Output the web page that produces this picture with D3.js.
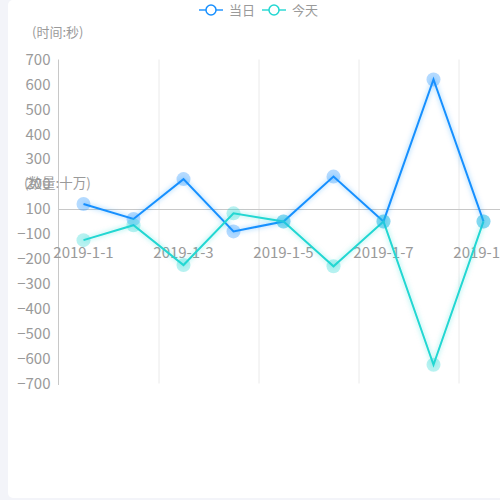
<!DOCTYPE html>
<html>
<head>
<meta charset="utf-8">
<script src="https://cdn.jsdelivr.net/npm/d3@7"></script>
<style>
  html, body { margin: 0; padding: 0; background: #f3f4f9; }
  #chart { position: absolute; left: 8px; top: 0; width: 520px; height: 498px; background: #fff; border-radius: 5px; overflow: hidden; }
  svg { position: absolute; left: -8px; top: 0; }
  text { font-family: "Noto Sans CJK SC", "Noto Sans", sans-serif; }
</style>
</head>
<body>
<div id="chart"></div>
<script>
// data
const dates = ["2019-1-1", "2019-1-2", "2019-1-3", "2019-1-4", "2019-1-5", "2019-1-6", "2019-1-7", "2019-1-8", "2019-1-9"];
const dangri = [120, 20, 220, -80, 0, 230, 0, 620, 0];
const jintian = [-125, -30, -225, 65, 0, -230, 0, -625, 0];
const yTicks = [700, 600, 500, 400, 300, 200, 100, -100, -200, -300, -400, -500, -600, -700];
const seriesNames = ["当日", "今天"];

const width = 500, height = 498;
const colors = ["#1890ff", "#22d7d2"];

const svg = d3.select("#chart").append("svg")
  .attr("width", width + 8)
  .attr("height", height);

// glow filters
const defs = svg.append("defs");
colors.forEach((c, i) => {
  defs.append("filter")
    .attr("id", "glow" + i)
    .attr("x", "-20%").attr("y", "-20%").attr("width", "140%").attr("height", "140%")
    .append("feDropShadow")
    .attr("dx", 0).attr("dy", 0)
    .attr("stdDeviation", 2.5)
    .attr("flood-color", c)
    .attr("flood-opacity", 0.5);
});

// scales
const xScale = d3.scaleBand().domain(dates).range([58.5, 58.5 + dates.length * 50]);
// piecewise: axis skips zero, ticks 100 / -100 sit one step apart
const yScale = d3.scaleLinear()
  .domain([-700, -100, 100, 700])
  .range([383.5, 233.9, 209, 59.5]);

const cx = (d) => xScale(d) + xScale.bandwidth() / 2;

// vertical split lines
svg.append("g")
  .selectAll("line")
  .data(dates.filter((d, i) => i > 0 && i % 2 === 0))
  .join("line")
  .attr("x1", (d) => xScale(d) + 0.5)
  .attr("x2", (d) => xScale(d) + 0.5)
  .attr("y1", yScale(700))
  .attr("y2", yScale(-700))
  .attr("stroke", "#eaeaea")
  .attr("stroke-width", 1);

// y axis
const yAxis = d3.axisLeft(yScale)
  .tickValues(yTicks)
  .tickSize(0)
  .tickSizeOuter(0)
  .tickPadding(8);

const gy = svg.append("g")
  .attr("class", "y-axis")
  .attr("transform", "translate(58.5, 0)")
  .call(yAxis);
gy.select(".domain").attr("stroke", "#c8c8c8").attr("d", `M0,${yScale(700)}V${yScale(-700) + 1.5}`);
gy.selectAll("text").attr("fill", "#9a9a9a").attr("font-size", 15);

// horizontal base line
svg.append("line")
  .attr("x1", 58.5)
  .attr("x2", width + 8)
  .attr("y1", Math.round(yScale(100)) + 0.5)
  .attr("y2", Math.round(yScale(100)) + 0.5)
  .attr("stroke", "#c8c8c8");

// x axis labels
const xAxis = d3.axisBottom(xScale)
  .tickValues(dates.filter((d, i) => i % 2 === 0))
  .tickSize(0)
  .tickPadding(8);

const gx = svg.append("g")
  .attr("class", "x-axis")
  .attr("transform", "translate(0, 239)")
  .call(xAxis);
gx.select(".domain").remove();
gx.selectAll("text").attr("fill", "#9a9a9a").attr("font-size", 15);

// axis names
svg.append("text")
  .attr("x", 32).attr("y", 37)
  .attr("fill", "#9a9a9a").attr("font-size", 13)
  .text("(时间:秒)");

svg.append("text")
  .attr("x", 24).attr("y", 188)
  .attr("fill", "#9a9a9a").attr("font-size", 13.5)
  .text("(数量:十万)");

// lines
const line = d3.line()
  .x((d, i) => cx(dates[i]))
  .y((d) => yScale(d));

[dangri, jintian].forEach((vals, k) => {
  svg.append("path")
    .datum(vals)
    .attr("d", line)
    .attr("fill", "none")
    .attr("stroke", colors[k])
    .attr("stroke-width", 2)
    .attr("filter", `url(#glow${k})`);
});

[dangri, jintian].forEach((vals, k) => {
  svg.append("g")
    .selectAll("circle")
    .data(vals)
    .join("circle")
    .attr("cx", (d, i) => cx(dates[i]))
    .attr("cy", (d) => yScale(d))
    .attr("r", 7)
    .attr("fill", colors[k])
    .attr("fill-opacity", 0.32);
});

// legend
const legend = svg.append("g").attr("transform", "translate(199, 10)");
const legendX = [0, 63];
seriesNames.forEach((name, k) => {
  const g = legend.append("g").attr("transform", `translate(${legendX[k]}, 0)`);
  g.append("line")
    .attr("x1", 0).attr("x2", 24)
    .attr("stroke", colors[k]).attr("stroke-width", 2).attr("stroke-opacity", 0.7);
  g.append("circle")
    .attr("cx", 12).attr("r", 5)
    .attr("fill", "#fff")
    .attr("stroke", colors[k]).attr("stroke-width", 1.5);
  g.append("text")
    .attr("x", 30).attr("y", 4.5)
    .attr("fill", "#9a9a9a").attr("font-size", 13)
    .text(name);
});
</script>
</body>
</html>
